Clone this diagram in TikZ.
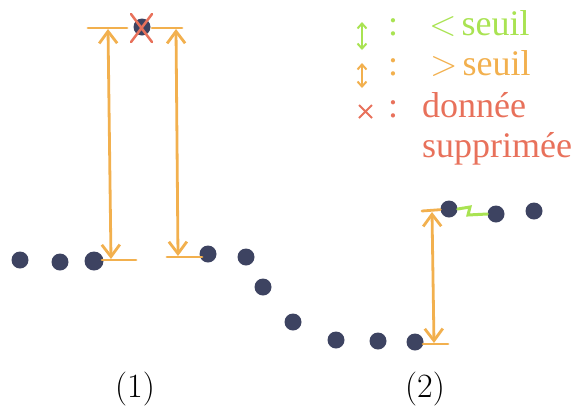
\documentclass[tikz,border=0pt]{standalone}
\usepackage{fontspec}
\newfontfamily\legfont{Liberation Serif}
\newcommand\lmsym[1]{{\normalfont\fontsize{36}{40}\selectfont #1}}
\usetikzlibrary{arrows.meta}
\definecolor{dotc}{HTML}{3D4361}
\definecolor{orc}{HTML}{F2B04E}
\definecolor{grc}{HTML}{A9E352}
\definecolor{rdc}{HTML}{E8715B}
\begin{document}
\begin{tikzpicture}[x=1pt,y=-1pt,
  pt/.style={circle,fill=dotc,inner sep=0pt,minimum size=17pt},
  bar/.style={orc,line width=2.8pt,line cap=round},
  dimarrow/.style={orc,line width=2.8pt,{Straight Barb[length=12pt,width=18pt]}-{Straight Barb[length=12pt,width=18pt]}},
  legarrow/.style={line width=2pt,{Straight Barb[length=5pt,width=9pt]}-{Straight Barb[length=5pt,width=9pt]}},
  lbl/.style={font=\legfont\fontsize{36}{40}\selectfont,inner sep=0pt,anchor=base west},
  colon/.style={font=\legfont\fontsize{36}{40}\selectfont,inner sep=0pt,anchor=base},
  caplabel/.style={font=\fontsize{34}{40}\selectfont,inner sep=0pt,anchor=base}]
\useasboundingbox (0,0) rectangle (576,408);
% dots
\node[pt] (d1) at (20,260) {};
\node[pt] (d2) at (60,262) {};
\node[pt,minimum size=19pt] (d3) at (94,261) {};
\node[pt] (d4) at (208,254) {};
\node[pt] (d5) at (246,257) {};
\node[pt] (d6) at (263,287) {};
\node[pt] (d7) at (293,322) {};
\node[pt] (d8) at (336,340) {};
\node[pt] (d9) at (378,341) {};
\node[pt] (d10) at (415,342) {};
\node[pt] (d11) at (449,209) {};
\node[pt] (d12) at (496,214) {};
\node[pt] (d13) at (534,211) {};
\node[pt] (dx) at (142,27) {};
% deleted cross
\draw[rdc,line width=2.5pt,line cap=round] (131,14) -- (152,42) (152,14) -- (131,42);
% case (1)
\coordinate (t1a) at (88,28); \coordinate (t1b) at (127,28);
\coordinate (t2a) at (152,28); \coordinate (t2b) at (182,28);
\coordinate (b1a) at (102,260); \coordinate (b1b) at (136,260);
\coordinate (b2a) at (167,257); \coordinate (b2b) at (202,257);
\draw[bar] (t1a) -- (t1b);
\draw[bar] (t2a) -- (t2b);
\draw[bar] (b1a) -- (b1b);
\draw[bar] (b2a) -- (b2b);
\coordinate (a1t) at (108,29); \coordinate (a1b) at (111,259);
\coordinate (a2t) at (176,29); \coordinate (a2b) at (178,256);
\draw[dimarrow] (a1t) -- (a1b);
\draw[dimarrow] (a2t) -- (a2b);
% case (2)
\coordinate (t3a) at (422,211);
\coordinate (b3a) at (423,344); \coordinate (b3b) at (448,344);
\draw[bar] (t3a) -- (d11);
\draw[bar] (b3a) -- (b3b);
\coordinate (a3t) at (432,212); \coordinate (a3b) at (434,343);
\draw[dimarrow] (a3t) -- (a3b);
% small green step
\coordinate (g1) at (470,207); \coordinate (g2) at (468,215);
\draw[grc,line width=3pt,line cap=round] (d11.east) -- (g1) -- (g2) -- (d12.west);
% legend
\coordinate (lg1) at (362,22); \coordinate (lg2) at (362,50);
\coordinate (lo1) at (362,63); \coordinate (lo2) at (362,88);
\draw[legarrow,grc] (lg1) -- (lg2);
\draw[legarrow,orc] (lo1) -- (lo2);
\draw[rdc,line width=2pt] (359,105) -- (372,118) (372,105) -- (359,118);
\node[colon,grc] (c1) at (393,35) {:};
\node[colon,orc] (c2) at (393,75) {:};
\node[colon,rdc] (c3) at (393,117) {:};
\node[lbl,grc] (l1) at (429,35) {\lmsym{<}\hspace{5pt}seuil};
\node[lbl,orc] (l2) at (430,75) {\lmsym{>}\hspace{5pt}seuil};
\node[lbl,rdc] (l3) at (422,117) {donnée};
\node[lbl,rdc] (l4) at (422,157) {supprimée};
% captions
\node[caplabel] (cap1) at (135,397) {(1)};
\node[caplabel] (cap2) at (425,397) {(2)};
\end{tikzpicture}
\end{document}
